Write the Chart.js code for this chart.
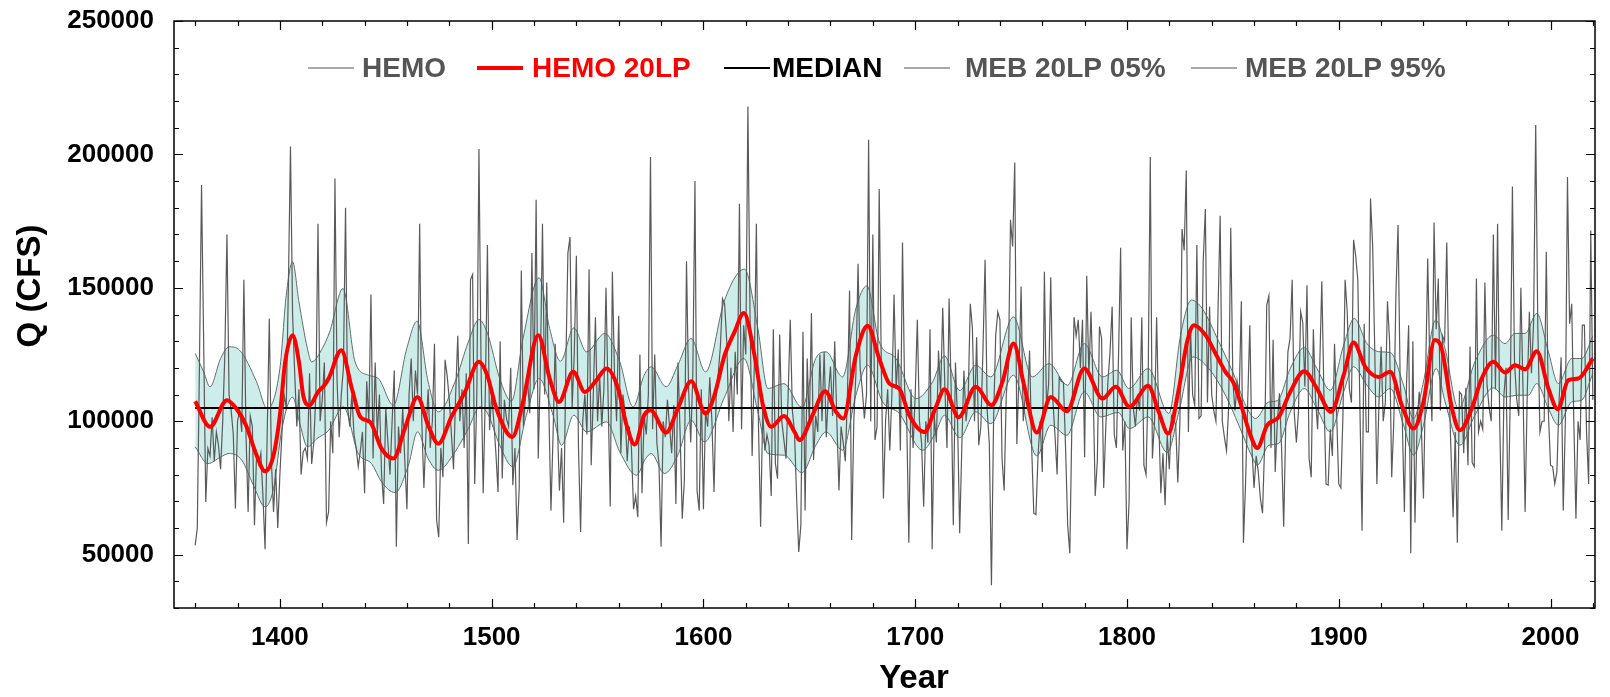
<!DOCTYPE html>
<html>
<head>
<meta charset="utf-8">
<title>HEMO annual flow</title>
<script src="https://cdn.jsdelivr.net/npm/chart.js@4.4.1/dist/chart.umd.min.js"></script>
<style>
    html, body { margin: 0; padding: 0; background: #ffffff; }
    #chart-wrap { position: relative; width: 1610px; height: 697px; }
</style>
</head>
<body>
<div id="chart-wrap"><canvas id="flow-chart"></canvas></div>
<script>
// annual HEMO flow, one value per year starting at firstYear
const firstYear = 1360;
const hemoFlows = [
    // 1360
    53500, 60000, 120000, 188500, 130000, 69750, 89750, 87000, 101500, 85000,
    96000, 91000, 82000, 100000, 125000, 170000, 110000, 104000, 95000, 67250,
    100000, 104000, 96000, 153000, 95000, 66000, 102000, 98000, 61000, 88000,
    84000, 88000, 72000, 52000, 95000, 138500, 85000, 66000, 82000, 60000,
    // 1400
    80000, 96000, 110000, 105000, 150000, 203000, 140000, 118000, 98000, 112000,
    80000, 88500, 90000, 86000, 118000, 84000, 92000, 110000, 174000, 100000,
    108000, 122000, 62000, 66000, 100000, 88000, 191000, 115000, 94000, 110000,
    120000, 180000, 105000, 98000, 110000, 95000, 90000, 83000, 89000, 96000,
    73000, 115000, 100000, 147500, 86000, 122000, 95000, 110000, 80000, 69000,
    105000, 92000, 80000, 100000, 119000, 53000, 98000, 88000, 105000, 85000,
    67000, 110000, 123500, 100000, 119000, 110000, 174000, 100000, 75000, 96000,
    112000, 90000, 100000, 129000, 63000, 56500, 90000, 79000, 123000, 117000,
    108000, 95000, 82000, 110000, 132000, 100000, 112000, 90000, 118000, 54000,
    153000, 155000, 76500, 110000, 202000, 120000, 73000, 110000, 166000, 96600,
    // 1500
    110000, 100000, 88000, 73500, 130000, 78500, 108000, 101000, 98000, 120000,
    76000, 90000, 55500, 75000, 156500, 98000, 110000, 115000, 103000, 163000,
    112000, 183000, 86000, 120000, 174000, 110000, 152000, 105000, 66500, 95000,
    129000, 100000, 74000, 90000, 62000, 120000, 163000, 169000, 105000, 125000,
    162000, 90000, 58500, 100000, 110000, 95000, 157000, 83500, 110000, 139000,
    100000, 117000, 98000, 112000, 150000, 108000, 68000, 156000, 118000, 100000,
    139500, 88000, 110000, 103000, 85000, 98000, 90000, 67000, 72000, 64000,
    125000, 73000, 102000, 95000, 110000, 199000, 97000, 125000, 92000, 84000,
    53000, 100000, 94000, 108000, 98000, 88000, 106000, 69000, 122000, 95000,
    63500, 78000, 160000, 112000, 92000, 118000, 190000, 74000, 66500, 112000,
    // 1600
    67000, 104000, 98000, 116500, 100000, 73500, 109000, 118000, 128000, 146000,
    144000, 130000, 100000, 120000, 96000, 126000, 110000, 181500, 97000, 136000,
    125000, 218000, 140000, 87000, 120000, 174000, 98000, 60500, 104000, 89000,
    95000, 91000, 72000, 134500, 84000, 78500, 132500, 100000, 93000, 86000,
    110000, 138000, 104000, 96000, 71500, 51000, 61000, 133500, 66500, 123500,
    98000, 140500, 85500, 102000, 96000, 125000, 100000, 126000, 94000, 110000,
    120500, 102000, 130000, 100000, 74000, 98000, 92000, 85000, 110000, 149000,
    55500, 100000, 118000, 159000, 120000, 112000, 101000, 110000, 205500, 100000,
    170000, 93000, 98000, 187000, 120000, 71000, 100000, 112000, 89000, 110000,
    147500, 112000, 127000, 89000, 167000, 112000, 100000, 54500, 112000, 90000,
    // 1700
    110000, 138000, 100000, 92000, 68000, 100000, 92000, 134500, 52000, 102000,
    92000, 126500, 110000, 142500, 113000, 90000, 146000, 111000, 61000, 122000,
    100000, 58000, 90000, 119000, 100000, 108000, 144000, 135000, 100000, 131500,
    91000, 98000, 127000, 160500, 104000, 91500, 38500, 100000, 132000, 141000,
    138000, 86000, 74000, 110000, 120000, 175500, 165500, 197000, 91500, 118000,
    150500, 100000, 110000, 105000, 126500, 90000, 65500, 65000, 87000, 100000,
    81000, 156000, 105000, 114000, 154000, 108000, 95000, 80000, 116500, 115000,
    114500, 90000, 61000, 50500, 100000, 139000, 132000, 138000, 120000, 138000,
    86500, 154500, 117000, 141000, 113000, 72000, 85000, 135500, 131000, 75000,
    98000, 115000, 126000, 143000, 95000, 90000, 124000, 165000, 89000, 100000,
    // 1800
    52000, 70000, 139000, 105000, 98000, 110000, 104000, 139000, 83500, 80000,
    115000, 199000, 86000, 100000, 139000, 100000, 73000, 88000, 68500, 95000,
    82000, 102000, 100000, 99000, 77000, 100000, 172000, 164000, 194000, 96000,
    135000, 110000, 106000, 166000, 101000, 102000, 160000, 179500, 107000, 143000,
    110000, 104000, 100000, 142000, 177000, 100000, 94000, 89000, 105000, 172500,
    115000, 104000, 115000, 110000, 145000, 54500, 77000, 107000, 136000, 90000,
    75000, 87000, 81000, 71000, 65500, 91000, 143500, 147000, 90000, 130500,
    81000, 100000, 110500, 90000, 60500, 100000, 126000, 131000, 153000, 103000,
    92000, 104000, 141000, 137000, 113000, 151000, 86000, 79000, 134500, 109000,
    97000, 120000, 152500, 110000, 76500, 76000, 97000, 87000, 129000, 103000,
    // 1900
    76500, 75000, 103000, 153000, 141000, 112000, 107000, 168000, 162000, 153000,
    105000, 59000, 136500, 96000, 96000, 183500, 166000, 127000, 76500, 107000,
    128000, 100000, 107000, 145000, 130000, 79000, 100000, 148000, 173500, 115000,
    100000, 66000, 114000, 136000, 50500, 130000, 62000, 100000, 111000, 98000,
    71000, 116000, 161000, 121000, 100000, 174500, 134500, 153500, 104000, 132000,
    130000, 167000, 115000, 88500, 64000, 96000, 54500, 111000, 110000, 88000,
    112500, 83500, 128000, 84500, 83000, 153500, 96000, 100000, 97000, 152000,
    114000, 105000, 100000, 170000, 112000, 174000, 100000, 59000, 110000, 120000,
    63000, 110000, 188000, 122000, 108500, 102000, 150000, 112000, 66000, 110000,
    141000, 118000, 137000, 211000, 135000, 96000, 100000, 100000, 163500, 103000,
    // 2000
    83500, 83000, 76500, 81000, 107000, 124000, 66500, 100000, 191500, 136500,
    144000, 100000, 63500, 100000, 93000, 136000, 136000, 96000, 76500, 171500,
    108000
];

// 20-year low pass of HEMO, [year, flow]
const lpPoints = [
    [1360, 107500], [1367, 97900], [1375, 107900], [1380, 104100], [1384, 98500],
    [1389, 87250], [1393, 81250], [1397, 87250], [1400, 102250], [1402.5, 122250],
    [1406, 132250], [1409, 122250], [1411, 109750], [1414, 106000], [1418, 111000],
    [1421, 113500], [1423, 116000], [1429, 126600], [1434, 112250], [1438, 101600],
    [1442.6, 99750], [1448, 89750], [1453.6, 86000], [1459, 97250], [1465, 109100],
    [1470, 98500], [1474.8, 91600], [1481, 101600], [1487.4, 111000], [1494, 122250],
    [1498, 117000], [1502.2, 104750], [1509.8, 94100], [1514.8, 107250], [1522, 132250],
    [1527.4, 116000], [1531.8, 107250], [1538.5, 118500], [1544, 111000], [1549.5, 115400],
    [1554.2, 119750], [1559.7, 112250], [1563.7, 98500], [1567.6, 91250], [1572, 102250],
    [1575, 104100], [1582.4, 95750], [1587.9, 104750], [1594.2, 115000], [1601, 102900],
    [1605.2, 109750], [1610, 124750], [1614.7, 133500], [1619.1, 140600], [1624.1, 124750],
    [1628.1, 106000], [1632, 97900], [1638, 102000], [1643, 96000], [1645.4, 92900],
    [1651.5, 102250], [1657.5, 111250], [1662.6, 103500], [1666, 101000], [1672, 124750],
    [1677.5, 135750], [1683, 123500], [1687.8, 114100], [1692.5, 112250], [1697.2, 102250],
    [1704.3, 96000], [1709.8, 105400], [1713.8, 112000], [1720.5, 101500], [1728.6, 112900],
    [1736, 106000], [1741.2, 114750], [1746.4, 129100], [1751.4, 113500], [1757.4, 95750],
    [1764, 109100], [1771.6, 103750], [1779.8, 119750], [1788.4, 108500], [1794.7, 112900],
    [1801.2, 105400], [1810, 113250], [1815, 103500], [1819.4, 95400], [1824.5, 112250],
    [1828.4, 129750], [1831.6, 136000], [1837.1, 132250], [1841.8, 125400], [1846.5, 118500],
    [1850.5, 114100], [1854.4, 104750], [1858.3, 94750], [1861.5, 90000], [1866.2, 98500],
    [1871.7, 101600], [1877.1, 111000], [1883.7, 118750], [1889.7, 112250], [1896.3, 103500],
    [1902.3, 117250], [1907, 129500], [1912.5, 120400], [1918.8, 116600], [1924.3, 118500],
    [1929.8, 106000], [1935.3, 97250], [1940, 107250], [1945.4, 130400], [1948.6, 127250],
    [1953.3, 105400], [1957.2, 96600], [1962.8, 104750], [1967.5, 116000], [1973, 122250],
    [1978.5, 118250], [1983.2, 121000], [1988, 119500], [1993.5, 126250], [1999, 112250],
    [2003.4, 104500], [2008.4, 115400], [2013.1, 116000], [2020, 123500]
];

// MEB 20LP 95% band edge
const highPoints = [
    [1360, 125400], [1364, 118500], [1367, 112900], [1372, 123500], [1376, 127900],
    [1381, 126600], [1389, 114750], [1394, 104750], [1400, 119750], [1403, 147250],
    [1406, 159750], [1409, 144750], [1413, 127250], [1415, 122250], [1420, 127250],
    [1423.5, 133500], [1429.8, 149750], [1435.5, 122250], [1441.8, 117250], [1446.5, 116000],
    [1453.6, 106000], [1459.9, 127250], [1464.8, 137500], [1470, 114750], [1474.8, 103500],
    [1482.7, 114750], [1489, 129750], [1494, 138100], [1498, 133000], [1503.8, 116000],
    [1509.3, 107500], [1514.8, 131000], [1522.4, 153750], [1527.4, 134750], [1532.5, 122500],
    [1538.8, 135000], [1544.8, 126000], [1553.4, 132900], [1560.5, 122250], [1566.8, 105400],
    [1572, 117250], [1575.3, 120400], [1582.4, 112900], [1587.9, 121000], [1594.2, 131000],
    [1601, 118500], [1610, 145400], [1619.4, 157000], [1625.7, 134750], [1630.4, 112250],
    [1638, 114100], [1646.5, 105200], [1653, 123500], [1657.9, 126000], [1665.7, 116600],
    [1672, 142250], [1677.2, 150750], [1683, 129750], [1690.9, 123500], [1700.4, 108500],
    [1708.2, 114750], [1713.8, 124500], [1721, 111500], [1728.6, 121000], [1735.7, 116600],
    [1746.4, 139100], [1755.3, 116600], [1763.2, 121600], [1771.9, 113500], [1779.8, 129100],
    [1788.4, 116600], [1795.2, 119100], [1800.9, 112250], [1810, 119750], [1819.8, 102900],
    [1825.3, 132250], [1830.5, 145400], [1835.5, 142250], [1843.4, 129750], [1851.2, 116000],
    [1856, 106000], [1860.7, 101000], [1867, 107250], [1871, 107700], [1877.1, 119750],
    [1883.7, 127600], [1889.7, 119750], [1896, 111600], [1902.3, 128500], [1907.3, 138500],
    [1913.3, 129100], [1919.6, 126000], [1924.3, 125750], [1930.6, 113500], [1935.3, 101000],
    [1940, 114750], [1945.8, 138000], [1950.2, 127250], [1956.5, 104750], [1964.3, 122250],
    [1973, 132250], [1978.5, 129100], [1983.2, 132900], [1988, 132900], [1993.5, 140400],
    [1999, 126000], [2003.7, 114100], [2010, 123500], [2014.7, 123500], [2020, 132000]
];

// MEB 20LP 05% band edge
const lowPoints = [
    [1360, 90400], [1366, 84100], [1372, 86600], [1376, 87900], [1382, 85400],
    [1387.5, 76000], [1393, 67900], [1397, 74750], [1401, 97250], [1406, 109000],
    [1409.6, 98500], [1413, 90400], [1417.5, 93500], [1423, 96500], [1430, 105400],
    [1437, 87900], [1443.3, 84100], [1448, 77250], [1454.4, 73250], [1460.7, 83500],
    [1465, 96000], [1470, 86000], [1474.8, 81600], [1482.7, 88500], [1489, 97250],
    [1494.5, 105400], [1498, 103000], [1503.8, 91000], [1510, 82900], [1516.4, 102250],
    [1522.4, 116000], [1529, 102250], [1533, 91000], [1538.8, 102250], [1544.8, 96000],
    [1554.2, 99750], [1560.5, 88500], [1568.4, 79750], [1572.5, 85700], [1575.3, 87900],
    [1581.6, 80400], [1587.9, 87250], [1594.2, 100400], [1600.5, 92250], [1610, 109100],
    [1619.1, 123500], [1625.7, 103500], [1630.4, 87900], [1638.3, 87250], [1646.5, 80700],
    [1653.1, 91000], [1657.9, 96000], [1665.7, 89100], [1672, 109750], [1677.5, 121000],
    [1684.6, 107250], [1692.5, 102900], [1703.5, 89100], [1709.8, 96000], [1713.8, 102250],
    [1721, 93800], [1728.6, 103500], [1735.7, 99100], [1746.4, 117250], [1757.4, 87000],
    [1764, 98500], [1771.6, 94750], [1779.8, 111000], [1787.6, 101600], [1795.8, 103300],
    [1801.2, 97250], [1810, 101600], [1819, 88250], [1824.5, 103500], [1831.1, 124100],
    [1838.6, 119750], [1846.5, 109750], [1852.8, 98500], [1859.1, 86600], [1861.5, 83500],
    [1867, 91000], [1871.5, 91600], [1877.1, 103500], [1883.7, 112250], [1889.7, 104750],
    [1896, 96000], [1902.3, 111000], [1907, 120400], [1913.3, 113500], [1918.8, 109100],
    [1924.3, 112250], [1930.6, 98500], [1935.3, 87250], [1940, 98500], [1946, 119750],
    [1950.2, 107250], [1957.2, 91000], [1964.3, 102250], [1973, 112500], [1978.5, 109100],
    [1984.8, 109750], [1989.5, 109750], [1993.5, 114100], [1999, 104750], [2003.7, 98500],
    [2010, 107250], [2014.7, 107900], [2020, 118000]
];

const medianFlow = 105000;

const FONT = '"Liberation Sans", Arial, Helvetica, sans-serif';
const GRAY = '#555555';
const BAND_FILL = 'rgb(204, 237, 233)';

function toXY(points) {
    return points.map(p => ({ x: p[0], y: p[1] }));
}

const hemoData = hemoFlows.map((v, i) => ({ x: firstYear + i, y: v }));
const lastYear = firstYear + hemoFlows.length - 1;

// frame with inward ticks on all four sides
const frameTicks = {
    id: 'frameTicks',
    afterDatasetsDraw(chart) {
        const ctx = chart.ctx;
        const a = chart.chartArea;
        const xs = chart.scales.x;
        const ys = chart.scales.y;
        ctx.save();
        ctx.strokeStyle = '#000000';
        ctx.lineWidth = 1.5;
        ctx.strokeRect(a.left, a.top, a.right - a.left, a.bottom - a.top);
        ctx.lineWidth = 1.2;
        ctx.beginPath();
        xs.ticks.forEach(t => {
            const px = Math.round(xs.getPixelForValue(t.value)) + 0.5;
            const len = t.value % 100 === 0 ? 9 : 5;
            ctx.moveTo(px, a.bottom);
            ctx.lineTo(px, a.bottom - len);
            ctx.moveTo(px, a.top);
            ctx.lineTo(px, a.top + len);
        });
        ys.ticks.forEach(t => {
            const py = Math.round(ys.getPixelForValue(t.value)) + 0.5;
            const len = t.value % 50000 === 0 ? 9 : 5;
            ctx.moveTo(a.left, py);
            ctx.lineTo(a.left + len, py);
            ctx.moveTo(a.right, py);
            ctx.lineTo(a.right - len, py);
        });
        ctx.stroke();
        ctx.restore();
    },
    afterDraw(chart) {
        const ctx = chart.ctx;
        ctx.save();
        ctx.fillStyle = '#000000';
        ctx.font = 'bold 33px ' + FONT;
        ctx.textAlign = 'center';
        ctx.textBaseline = 'middle';
        ctx.fillText('Year', 914, 679);
        ctx.translate(31, 286);
        ctx.rotate(-Math.PI / 2);
        ctx.fillText('Q (CFS)', 0, 0);
        ctx.restore();
    }
};

// legend sits inside the plot, near the top
const legendItems = [
    { label: 'HEMO', color: GRAY, textColor: GRAY, width: 1.2, lineX: 308, textX: 362 },
    { label: 'HEMO 20LP', color: '#ff0000', textColor: '#ff0000', width: 4, lineX: 477, textX: 532 },
    { label: 'MEDIAN', color: '#000000', textColor: '#000000', width: 2, lineX: 724, textX: 772 },
    { label: 'MEB 20LP 05%', color: GRAY, textColor: GRAY, width: 1.2, lineX: 904, textX: 965 },
    { label: 'MEB 20LP 95%', color: GRAY, textColor: GRAY, width: 1.2, lineX: 1191, textX: 1245 }
];

const insideLegend = {
    id: 'insideLegend',
    afterDraw(chart) {
        const ctx = chart.ctx;
        const y = 68;
        ctx.save();
        ctx.font = 'bold 28px ' + FONT;
        ctx.textBaseline = 'middle';
        ctx.textAlign = 'left';
        legendItems.forEach(item => {
            ctx.strokeStyle = item.color;
            ctx.lineWidth = item.width;
            ctx.beginPath();
            ctx.moveTo(item.lineX, y);
            ctx.lineTo(item.lineX + 46, y);
            ctx.stroke();
            ctx.fillStyle = item.textColor;
            ctx.fillText(item.label, item.textX, y + 1);
        });
        ctx.restore();
    }
};

const ctx = document.getElementById('flow-chart');

new Chart(ctx, {
    type: 'line',
    data: {
        datasets: [
            {
                label: 'HEMO 20LP',
                data: toXY(lpPoints),
                borderColor: '#ff0000',
                borderWidth: 4,
                pointRadius: 0,
                cubicInterpolationMode: 'monotone',
                fill: false
            },
            {
                label: 'MEDIAN',
                data: [{ x: firstYear, y: medianFlow }, { x: lastYear, y: medianFlow }],
                borderColor: '#000000',
                borderWidth: 2,
                pointRadius: 0,
                fill: false
            },
            {
                label: 'HEMO',
                data: hemoData,
                borderColor: '#5a5a5a',
                borderWidth: 1.2,
                pointRadius: 0,
                tension: 0,
                fill: false
            },
            {
                label: 'MEB 20LP 95%',
                data: toXY(highPoints),
                borderColor: '#5f6f6d',
                borderWidth: 1,
                pointRadius: 0,
                cubicInterpolationMode: 'monotone',
                backgroundColor: BAND_FILL,
                fill: { target: '+1', above: BAND_FILL, below: BAND_FILL }
            },
            {
                label: 'MEB 20LP 05%',
                data: toXY(lowPoints),
                borderColor: '#5f6f6d',
                borderWidth: 1,
                pointRadius: 0,
                cubicInterpolationMode: 'monotone',
                fill: false
            }
        ]
    },
    options: {
        responsive: true,
        maintainAspectRatio: false,
        animation: false,
        layout: {
            padding: { left: 0, right: 15, top: 21, bottom: 0 }
        },
        plugins: {
            legend: { display: false },
            tooltip: { enabled: false },
            filler: { drawTime: 'beforeDatasetsDraw' }
        },
        scales: {
            x: {
                type: 'linear',
                min: 1350,
                max: 2021,
                grid: { display: false, drawTicks: false },
                border: { display: false },
                ticks: {
                    stepSize: 20,
                    autoSkip: false,
                    maxRotation: 0,
                    includeBounds: false,
                    padding: 14,
                    color: '#000000',
                    font: { family: FONT, size: 26, weight: 'bold' },
                    callback: v => (v % 100 === 0 ? String(v) : '')
                },
                afterFit: scale => { scale.height = 89; }
            },
            y: {
                type: 'linear',
                min: 30000,
                max: 250000,
                grid: { display: false, drawTicks: false },
                border: { display: false },
                ticks: {
                    stepSize: 10000,
                    autoSkip: false,
                    padding: 20,
                    color: '#000000',
                    font: { family: FONT, size: 26, weight: 'bold' },
                    callback: v => (v % 50000 === 0 ? String(v) : '')
                },
                afterFit: scale => {
                    // keep the top label from pushing the plot down
                    scale.width = 174;
                    scale.paddingTop = 0;
                    scale.paddingBottom = 0;
                }
            }
        }
    },
    plugins: [frameTicks, insideLegend]
});
</script>
</body>
</html>
